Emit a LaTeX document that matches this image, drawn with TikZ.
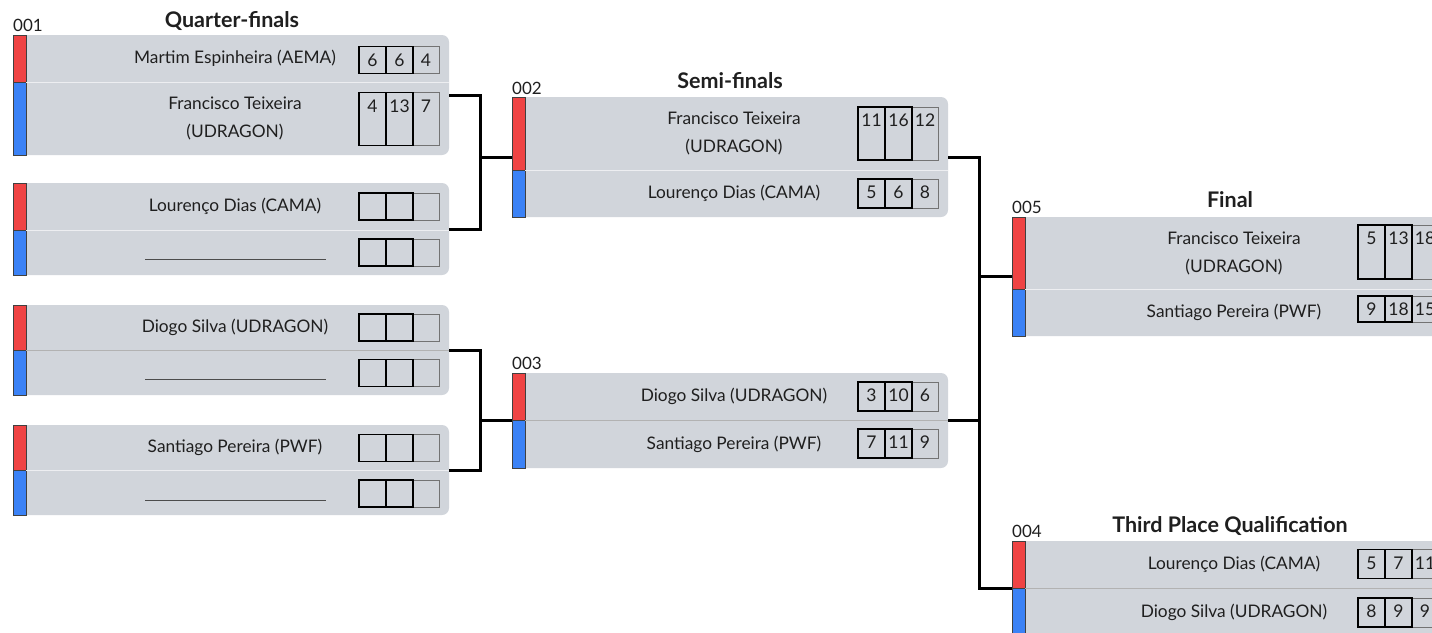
\documentclass[tikz,border=0pt]{standalone}
\usepackage{fontspec}
\setmainfont{Lato}
\usetikzlibrary{calc}
\definecolor{bg}{HTML}{D1D5DB}
\definecolor{rbar}{HTML}{EF4444}
\definecolor{bbar}{HTML}{3B82F6}
\definecolor{txt}{HTML}{1F1F1F}
\tikzset{
 matchbg/.style={fill=bg, rounded corners=7pt, inner sep=0pt, outer sep=0pt, minimum width=436pt},
 redbar/.style={fill=rbar, draw=black!75, line width=0.8pt, inner sep=0pt, outer sep=0pt, minimum width=13pt},
 bluebar/.style={fill=bbar, draw=black!75, line width=0.8pt, inner sep=0pt, outer sep=0pt, minimum width=13pt},
 lightdiv/.style={draw=white!60!bg, line width=1pt},
 darkdiv/.style={draw=black!30, line width=1pt},
 pname/.style={font=\fontsize{17.3}{28}\selectfont, text=txt, align=center, inner sep=0pt},
 cellk/.style={draw=black, line width=1.6pt, minimum width=27pt, inner sep=0pt, outer sep=0pt},
 cellg/.style={draw=black!55, line width=1pt, minimum width=26pt, inner sep=0pt, outer sep=0pt},
 num/.style={font=\fontsize{17.5}{20}\selectfont, text=txt, inner sep=0pt},
 title/.style={font=\fontsize{21.5}{24}\selectfont\bfseries, text=txt, anchor=base, inner sep=0pt},
 mlabel/.style={font=\fontsize{17}{20}\selectfont, text=txt, anchor=base west, inner sep=0pt},
 conn/.style={draw=black, line width=3pt},
 blank/.style={inner sep=0pt, text=black!70},
}
% name, x, ytop, hred, hblue, divider style
\newcommand{\matchbox}[6]{%
 \node[matchbg, minimum height={#4+#5}, anchor=north west] (#1) at (#2,#3) {};
 \node[redbar, minimum height=#4, anchor=north west] (#1r) at (#2,#3) {};
 \node[bluebar, minimum height=#5, anchor=north west] (#1b) at (#1r.south west) {};
 \draw[#6] (#1r.south east) -- (#1r.south east -| #1.east);
}
% name, x, ycenter, h, a, b, c
\newcommand{\scores}[7]{%
 \node[cellg, minimum height=#4] (#1c) at ({#2+67},#3) {};
 \node[cellk, minimum height=#4] (#1a) at ({#2+13.5},#3) {};
 \node[cellk, minimum height=#4] (#1b) at ({#2+40.5},#3) {};
 \node[num] (#1x) at ([yshift=-13.5pt]#1a.north) {#5};
 \node[num] (#1y) at ([yshift=-13.5pt]#1b.north) {#6};
 \node[num] (#1z) at ([yshift=-13.5pt]#1c.north) {#7};
}
\begin{document}
\begin{tikzpicture}[x=1pt,y=-1pt]
\clip (0,0) rectangle (1432,632);
\fill[white] (0,0) rectangle (1432,632);

% Quarter-finals
\node[title] (tq) at (232,27) {Quarter-finals};
\node[mlabel] (l1) at (13,31) {001};
\matchbox{q1}{13}{35}{47}{73}{lightdiv}
\node[pname] (q1n1) at (235,58.5) {Martim Espinheira (AEMA)};
\node[pname] (q1n2) at (235,118.5) {Francisco Teixeira\\(UDRAGON)};
\scores{q1s1}{359}{60}{27}{6}{6}{4}
\scores{q1s2}{359}{119}{53}{4}{13}{7}

\matchbox{q2}{13}{183}{47}{45}{lightdiv}
\node[pname] (q2n1) at (235,206.5) {Lourenço Dias (CAMA)};
\node[blank] (q2n2) at (235.5,259) {\rule{181pt}{0.8pt}};
\scores{q2s1}{359}{206.5}{27}{}{}{}
\scores{q2s2}{359}{252.5}{27}{}{}{}

\matchbox{q3}{13}{305}{45}{45}{darkdiv}
\node[pname] (q3n1) at (235,327.5) {Diogo Silva (UDRAGON)};
\node[blank] (q3n2) at (235.5,379.5) {\rule{181pt}{0.8pt}};
\scores{q3s1}{359}{327.5}{27}{}{}{}
\scores{q3s2}{359}{373}{27}{}{}{}

\matchbox{q4}{13}{425}{45}{45}{lightdiv}
\node[pname] (q4n1) at (235,447.5) {Santiago Pereira (PWF)};
\node[blank] (q4n2) at (235.5,500) {\rule{181pt}{0.8pt}};
\scores{q4s1}{359}{448}{27}{}{}{}
\scores{q4s2}{359}{493.5}{27}{}{}{}

% Semi-finals
\node[title] (ts) at (730,88) {Semi-finals};
\node[mlabel] (l2) at (512,94) {002};
\matchbox{s1}{512}{97}{73}{47}{lightdiv}
\node[pname] (s1n1) at (734,133.5) {Francisco Teixeira\\(UDRAGON)};
\node[pname] (s1n2) at (734,193.5) {Lourenço Dias (CAMA)};
\scores{s1s1}{858}{133.5}{53}{11}{16}{12}
\scores{s1s2}{858}{193.5}{29}{5}{6}{8}

\node[mlabel] (l3) at (512,369) {003};
\matchbox{s2}{512}{373}{47}{48}{darkdiv}
\node[pname] (s2n1) at (734,396.5) {Diogo Silva (UDRAGON)};
\node[pname] (s2n2) at (734,444) {Santiago Pereira (PWF)};
\scores{s2s1}{858}{396.5}{29}{3}{10}{6}
\scores{s2s2}{858}{443.5}{29}{7}{11}{9}

% Final
\node[title] (tf) at (1230,207) {Final};
\node[mlabel] (l5) at (1012,213) {005};
\matchbox{f}{1012}{217}{72}{47}{lightdiv}
\node[pname] (fn1) at (1234,253) {Francisco Teixeira\\(UDRAGON)};
\node[pname] (fn2) at (1234,312.5) {Santiago Pereira (PWF)};
\scores{fs1}{1358}{252}{54}{5}{13}{18}
\scores{fs2}{1358}{309}{26}{9}{18}{15}

% Third place
\node[title] (tt) at (1230,532) {Third Place Qualification};
\node[mlabel] (l4) at (1012,537) {004};
\matchbox{t}{1012}{541}{47}{48}{darkdiv}
\node[pname] (tn1) at (1234,564.5) {Lourenço Dias (CAMA)};
\node[pname] (tn2) at (1234,612) {Diogo Silva (UDRAGON)};
\scores{ts1}{1358}{564}{29}{5}{7}{11}
\scores{ts2}{1358}{612.5}{29}{8}{9}{9}

% connectors
\draw[conn] (q1.east) -- ++(31,0) |- (s1.west);
\draw[conn] (q2.east) -- ++(31,0) |- (s1.west);
\draw[conn] (q3.east) -- ++(31,0) |- (s2.west);
\draw[conn] (q4.east) -- ++(31,0) |- (s2.west);
\draw[conn] (s1.east) -- ++(31,0) |- (f.west);
\draw[conn] (s2.east) -- ++(31,0) |- (f.west);
\draw[conn] (s1.east) -- ++(31,0) |- (t.west);
\end{tikzpicture}
\end{document}
